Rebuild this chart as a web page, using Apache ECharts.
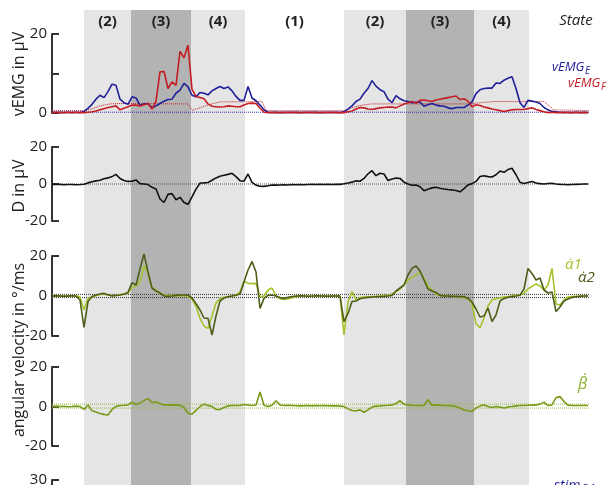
<!DOCTYPE html>
<html>
<head>
    <meta http-equiv="content-type" content="text/html; charset=utf-8">
    <title>vEMG and angular velocity</title>
    <script src="https://cdn.jsdelivr.net/npm/echarts@6/dist/echarts.min.js"></script>
    <style>
        html, body { margin: 0; padding: 0; background: #fff; }
    </style>
</head>
<body>
    <div id="chart" style="width:608px; height:485px;"></div>
    <script type="text/javascript">
        // states of the task (time in samples)
        var stateFrom = [8, 19.75, 34.75, 48.25, 73, 88.5, 105.5];
        var stateTo = [19.75, 34.75, 48.25, 73, 88.5, 105.5, 119.25];
        var stateName = ['(2)', '(3)', '(4)', '(1)', '(2)', '(3)', '(4)'];

        // vEMG extensor / flexor in uV
        var emgE = [
            0.2,0.1,0.2,0.1,0.2,0.1,0.2,0.1,0.4,1.2,
            2.2,3.5,4.5,3.9,5.4,7.3,7.0,3.5,2.6,2.2,
            4.1,3.8,2.0,2.3,2.4,1.4,1.8,2.4,3.0,3.4,
            3.5,5.0,5.8,7.5,6.6,4.5,4.1,5.2,5.0,4.6,
            5.6,6.2,6.7,6.2,6.6,5.6,4.2,3.2,3.2,6.7,
            3.8,3.1,2.0,0.8,0.2,0.1,0.2,0.1,0.1,0.2,
            0.1,0.2,0.1,0.1,0.2,0.1,0.2,0.1,0.1,0.2,
            0.1,0.2,0.1,0.3,1.0,1.8,2.9,3.5,5.0,6.2,
            8.2,6.8,5.9,5.4,3.5,2.6,4.4,3.6,3.1,2.9,
            2.6,2.7,2.8,1.7,2.1,2.4,2.0,1.8,1.7,1.3,
            1.1,1.4,1.4,1.4,2.0,2.8,4.9,5.9,6.2,6.3,
            6.3,7.6,7.5,8.3,8.8,9.2,6.2,2.6,1.4,3.2,
            3.0,2.8,2.4,1.4,0.8,0.4,0.3,0.2,0.1,0.2,
            0.1,0.2,0.1,0.2,0.1
        ];
        var emgF = [
            0.1,0.2,0.1,0.1,0.2,0.1,0.2,0.1,0.1,0.2,
            0.3,0.5,0.8,1.1,1.4,1.6,1.8,0.8,1.2,1.6,
            2.0,2.0,1.8,2.1,2.4,1.0,3.0,10.4,10.5,6.2,
            7.9,7.0,15.6,14.0,17.2,6.0,4.2,3.9,3.6,2.3,
            1.7,1.6,1.5,1.6,1.8,1.7,1.6,1.6,2.0,2.4,
            2.5,2.4,1.2,0.2,0.1,0.2,0.1,0.1,0.2,0.1,
            0.2,0.1,0.1,0.2,0.1,0.2,0.1,0.1,0.2,0.1,
            0.2,0.1,0.1,0.1,0.3,0.5,1.0,1.4,1.3,1.0,
            0.9,1.1,1.3,1.4,1.5,1.5,1.3,1.8,2.3,2.6,
            2.9,2.5,3.2,3.3,3.1,2.9,3.3,3.5,3.7,3.9,
            4.1,4.3,3.4,3.6,3.0,1.6,2.1,1.9,1.5,1.3,
            1.0,0.8,0.6,0.4,0.6,0.8,0.9,0.9,0.9,1.1,
            1.3,0.9,0.6,0.3,0.1,0.2,0.1,0.1,0.2,0.1,
            0.1,0.2,0.1,0.1,0.1
        ];
        var emgBaseE = 0.2;
        var thrT = [0, 8, 9.5, 12, 14.5, 17, 34, 35, 37, 39.5, 42, 52.5, 53.5, 73, 74.5, 77, 79.75, 104.5, 106, 110.5, 123, 125.5, 134.25];
        var thrF = [0.6, 0.6, 0.9, 1.8, 2.3, 2.4, 2.3, 0.7, 1.3, 2.2, 2.8, 2.9, 0.6, 0.6, 1.2, 1.9, 2.3, 2.3, 2.5, 2.9, 2.9, 0.8, 0.6];

        // difference D in uV
        var diffD = [
            -0.2,-0.3,-0.2,-0.4,-0.3,-0.3,-0.4,-0.3,-0.1,0.6,
            1.2,1.7,2.0,2.8,3.3,4.0,5.2,3.0,1.9,1.4,
            1.5,2.2,0.2,0.0,-0.3,-1.8,-2.7,-8.1,-10.0,-5.6,
            -5.2,-8.5,-7.2,-10.0,-11.0,-7.0,-2.8,0.5,0.6,0.8,
            2.0,3.3,4.2,4.7,5.2,5.8,4.0,1.8,1.5,5.4,
            0.9,-0.6,-1.2,-1.3,-0.9,-0.5,-0.6,-0.5,-0.4,-0.5,
            -0.3,-0.4,-0.3,-0.4,-0.3,-0.2,-0.3,-0.2,-0.3,-0.2,
            -0.3,-0.2,-0.2,0.1,0.5,1.0,1.7,1.5,3.0,5.5,
            7.2,4.5,5.8,5.4,1.9,2.7,3.2,3.0,1.0,0.0,
            -0.7,-0.6,-1.5,-3.6,-2.8,-2.1,-1.8,-2.3,-2.7,-3.0,
            -3.2,-3.5,-4.2,-2.5,-0.5,0.2,1.4,4.1,4.5,4.0,
            3.8,5.0,7.0,6.3,7.8,8.5,5.0,0.9,0.3,0.8,
            1.3,0.5,0.2,0.0,0.3,0.4,0.0,-0.2,-0.3,-0.4,
            -0.3,-0.2,-0.1,0.0,0.0
        ];

        // angular velocities in deg/ms
        var alpha1 = [
            0.3,0.0,0.2,0.0,0.2,0.0,0.1,-0.5,-7.0,-1.2,
            -0.5,0.2,0.8,1.0,0.5,0.2,0.3,0.6,0.8,1.5,
            4.2,5.0,7.2,15.0,11.3,3.8,3.0,1.5,0.5,0.2,
            0.3,0.2,0.3,0.2,0.0,-1.5,-5.0,-11.2,-15.0,-16.2,
            -10.0,-3.5,-1.2,-0.6,-0.3,0.0,0.5,2.0,7.5,6.3,
            6.2,6.3,-0.3,0.0,3.0,4.0,0.0,-1.4,-1.7,-1.5,
            -0.8,-0.3,0.0,0.2,0.0,-0.1,0.0,0.2,0.0,0.0,
            0.1,0.0,0.0,-19.5,-3.0,2.2,-1.8,-0.8,-0.5,-0.4,
            -0.3,-0.2,0.0,0.2,0.4,1.0,2.2,3.5,5.5,8.0,
            9.2,10.5,12.2,8.8,5.0,3.0,1.0,0.3,0.2,0.0,
            -0.2,-0.3,-0.5,-0.8,-1.5,-3.5,-14.0,-15.8,-11.0,-5.0,
            -2.0,-1.4,-1.0,-0.5,-0.3,0.0,0.3,0.6,1.3,3.5,
            4.8,6.0,5.0,3.0,5.5,13.8,-4.0,-4.5,-2.0,-0.5,
            -0.3,-0.1,0.0,0.0,0.0
        ];
        var alpha2 = [
            0.0,0.2,0.0,-0.2,0.0,0.1,0.0,-2.0,-15.7,-2.8,
            -0.3,0.5,1.0,1.3,0.6,0.0,0.3,0.5,1.0,1.8,
            6.7,5.5,13.5,21.0,12.0,4.0,2.5,1.5,0.0,-0.2,
            0.0,0.3,0.5,0.5,0.4,-1.0,-3.8,-7.0,-11.0,-11.2,
            -19.5,-10.0,-2.5,-1.0,-0.4,0.0,0.4,1.0,7.0,13.0,
            17.2,12.0,-6.2,-1.2,0.3,0.5,0.0,-0.8,-1.2,-0.7,
            -0.3,0.0,0.1,0.0,-0.1,0.0,0.1,0.0,0.0,-0.1,
            0.0,0.0,0.0,-12.8,-8.7,-2.8,-2.5,-1.4,-1.0,-0.7,
            -0.5,-0.4,-0.3,-0.2,0.0,0.3,2.5,4.0,5.5,10.5,
            13.8,15.0,12.5,8.0,3.5,2.5,1.8,0.3,0.0,0.0,
            -0.2,-0.2,-0.3,-0.3,-1.2,-3.0,-6.5,-10.5,-10.0,-6.0,
            -12.8,-9.5,-2.5,-1.2,-0.6,-0.3,0.0,0.4,3.5,13.8,
            11.3,8.0,9.0,3.0,1.5,2.0,-7.8,-5.5,-2.5,-1.5,
            -0.7,-0.4,-0.2,0.0,0.0
        ];
        var alphaRef = [0.8, -0.8];
        var beta = [
            0.0,0.2,0.0,0.1,-0.1,0.0,0.2,0.0,-1.5,0.8,
            -2.2,-2.8,-3.5,-4.0,-4.3,-1.5,0.0,0.5,0.6,0.8,
            2.2,1.0,1.8,3.0,4.0,2.0,2.3,1.5,0.8,0.7,
            0.8,0.7,0.6,-0.5,-3.4,-3.9,-2.0,0.0,1.2,0.5,
            0.0,-1.5,-1.5,-0.5,0.3,0.5,0.5,0.5,1.0,0.8,
            0.5,0.8,7.3,0.6,0.0,0.6,2.9,0.8,0.5,0.6,
            0.5,0.4,0.3,0.4,0.5,0.3,0.5,0.4,0.5,0.4,
            0.3,0.4,0.2,0.0,-1.2,-2.0,-2.2,-1.7,-2.9,-1.7,
            -0.3,0.2,0.3,0.5,0.6,0.8,1.5,2.9,1.2,0.8,
            0.6,0.5,0.5,0.5,3.4,0.6,0.8,0.7,0.5,0.5,
            0.3,0.0,-0.8,-1.8,-2.2,-2.5,-0.8,0.2,0.8,0.0,
            -0.5,0.0,-0.3,-0.8,-0.2,0.0,0.3,0.5,0.5,0.6,
            0.7,0.8,1.2,2.2,0.5,0.8,4.5,5.0,2.5,0.7,
            0.5,0.5,0.5,0.5,0.5
        ];
        var betaRef = [1.2, -0.8];

        var tEnd = 134.25;
        var font = 'Open Sans';
        var axisColor = '#333';

        var chart = echarts.init(document.getElementById('chart'));

        function pairs(vals) {
            return vals.map(function (v, i) { return [i, v]; });
        }
        function flat(v) {
            return [[0, v], [tEnd, v]];
        }
        function line(grid, data, color, width, dotted) {
            return {
                type: 'line', xAxisIndex: grid, yAxisIndex: grid, data: data,
                symbol: 'none', clip: false, silent: true, z: dotted ? 2 : 3,
                lineStyle: { color: color, width: width, type: dotted ? 'dotted' : 'solid' }
            };
        }
        function yAx(grid, min, max, step, hide) {
            return {
                type: 'value', gridIndex: grid, min: min, max: max, interval: step,
                splitLine: { show: false },
                axisLine: { show: true, lineStyle: { color: axisColor, width: 2 } },
                axisTick: { show: true, inside: true, length: 7, lineStyle: { color: axisColor, width: 2 } },
                axisLabel: {
                    fontSize: 15, fontFamily: font, color: '#222', margin: 5,
                    formatter: function (v) { return v === hide ? '' : v; }
                }
            };
        }

        var grids = [
            { left: 52, width: 537, top: 10, height: 475 },
            { left: 52, width: 537, top: 34, height: 79 },
            { left: 52, width: 537, top: 147, height: 74 },
            { left: 52, width: 537, top: 256, height: 80 },
            { left: 52, width: 537, top: 367, height: 79 },
            { left: 52, width: 537, top: 480, height: 100 }
        ];
        var xAxes = grids.map(function (g, i) {
            return { type: 'value', gridIndex: i, min: 0, max: tEnd, show: false };
        });
        var yAxes = [
            { type: 'value', gridIndex: 0, min: 0, max: 1, show: false },
            yAx(1, 0, 20, 10, 10),
            yAx(2, -20, 20, 20),
            yAx(3, -20, 20, 20),
            yAx(4, -20, 20, 20),
            yAx(5, 0, 30, 30)
        ];

        var bandColor = { '(1)': 'rgba(0,0,0,0)', '(2)': '#e5e5e5', '(3)': '#b3b3b3', '(4)': '#e5e5e5' };
        var bands = stateName.map(function (s, i) {
            return [{ xAxis: stateFrom[i], name: s, itemStyle: { color: bandColor[s] } }, { xAxis: stateTo[i] }];
        });

        var series = [
            {
                type: 'line', xAxisIndex: 0, yAxisIndex: 0, data: [[0, 0]], symbol: 'none',
                lineStyle: { opacity: 0 }, silent: true, z: 0,
                markArea: {
                    silent: true,
                    label: {
                        show: true, position: 'insideTop', distance: 4,
                        fontSize: 15, fontWeight: 'bold', fontFamily: font, color: '#222'
                    },
                    data: bands
                }
            },
            line(1, flat(emgBaseE), '#2b2bb0', 1, true),
            line(1, thrT.map(function (t, i) { return [t, thrF[i]]; }), '#c41e24', 1, true),
            line(1, pairs(emgE), '#1f1f9a', 1.6),
            line(1, pairs(emgF), '#c41e24', 1.6),
            line(2, flat(0), '#555', 1, true),
            line(2, pairs(diffD), '#111', 1.6),
            line(3, flat(alphaRef[0]), '#333', 1, true),
            line(3, flat(alphaRef[1]), '#333', 1, true),
            line(3, pairs(alpha1), '#a3c32a', 1.6),
            line(3, pairs(alpha2), '#4d5e1a', 1.6),
            line(4, flat(betaRef[0]), '#9ab83a', 1, true),
            line(4, flat(betaRef[1]), '#9ab83a', 1, true),
            line(4, pairs(beta), '#7a9a1a', 1.6)
        ];

        function txt(x, y, s, size, color, opts) {
            opts = opts || {};
            return {
                type: 'text', x: x, y: y, rotation: opts.rot || 0, z: 10, silent: true,
                style: {
                    text: s, fill: color, textAlign: opts.align || 'left', textVerticalAlign: 'middle',
                    font: (opts.italic ? 'italic ' : '') + (opts.bold ? 'bold ' : '') + size + 'px "' + font + '"'
                }
            };
        }

        var graphics = [
            txt(19, 74, 'vEMG in \u00B5V', 16, '#222', { rot: Math.PI / 2, align: 'center' }),
            txt(19, 186, 'D in \u00B5V', 16, '#222', { rot: Math.PI / 2, align: 'center' }),
            txt(19, 350, 'angular velocity in \u00B0/ms', 16, '#222', { rot: Math.PI / 2, align: 'center' }),
            txt(576, 21, 'State', 15, '#222', { italic: true, align: 'center' }),
            txt(552, 67, 'vEMG', 13, '#1f1f9a', { italic: true }),
            txt(585, 71, 'E', 10, '#1f1f9a', { italic: true }),
            txt(568, 83, 'vEMG', 13, '#c41e24', { italic: true }),
            txt(601, 87, 'F', 10, '#c41e24', { italic: true }),
            txt(565, 265, '\u03B1\u03071', 15, '#a3c32a', { italic: true }),
            txt(578, 278, '\u03B1\u03072', 15, '#4d5e1a', { italic: true }),
            txt(578, 384, '\u03B2\u0307', 16, '#8db02a', { italic: true }),
            txt(554, 486, 'stim', 14, '#1f1f9a', { italic: true }),
            txt(582, 489, 'E,1', 10, '#1f1f9a', { italic: true })
        ];

        chart.setOption({
            animation: false,
            grid: grids,
            xAxis: xAxes,
            yAxis: yAxes,
            series: series,
            graphic: graphics
        });
    </script>
</body>
</html>
